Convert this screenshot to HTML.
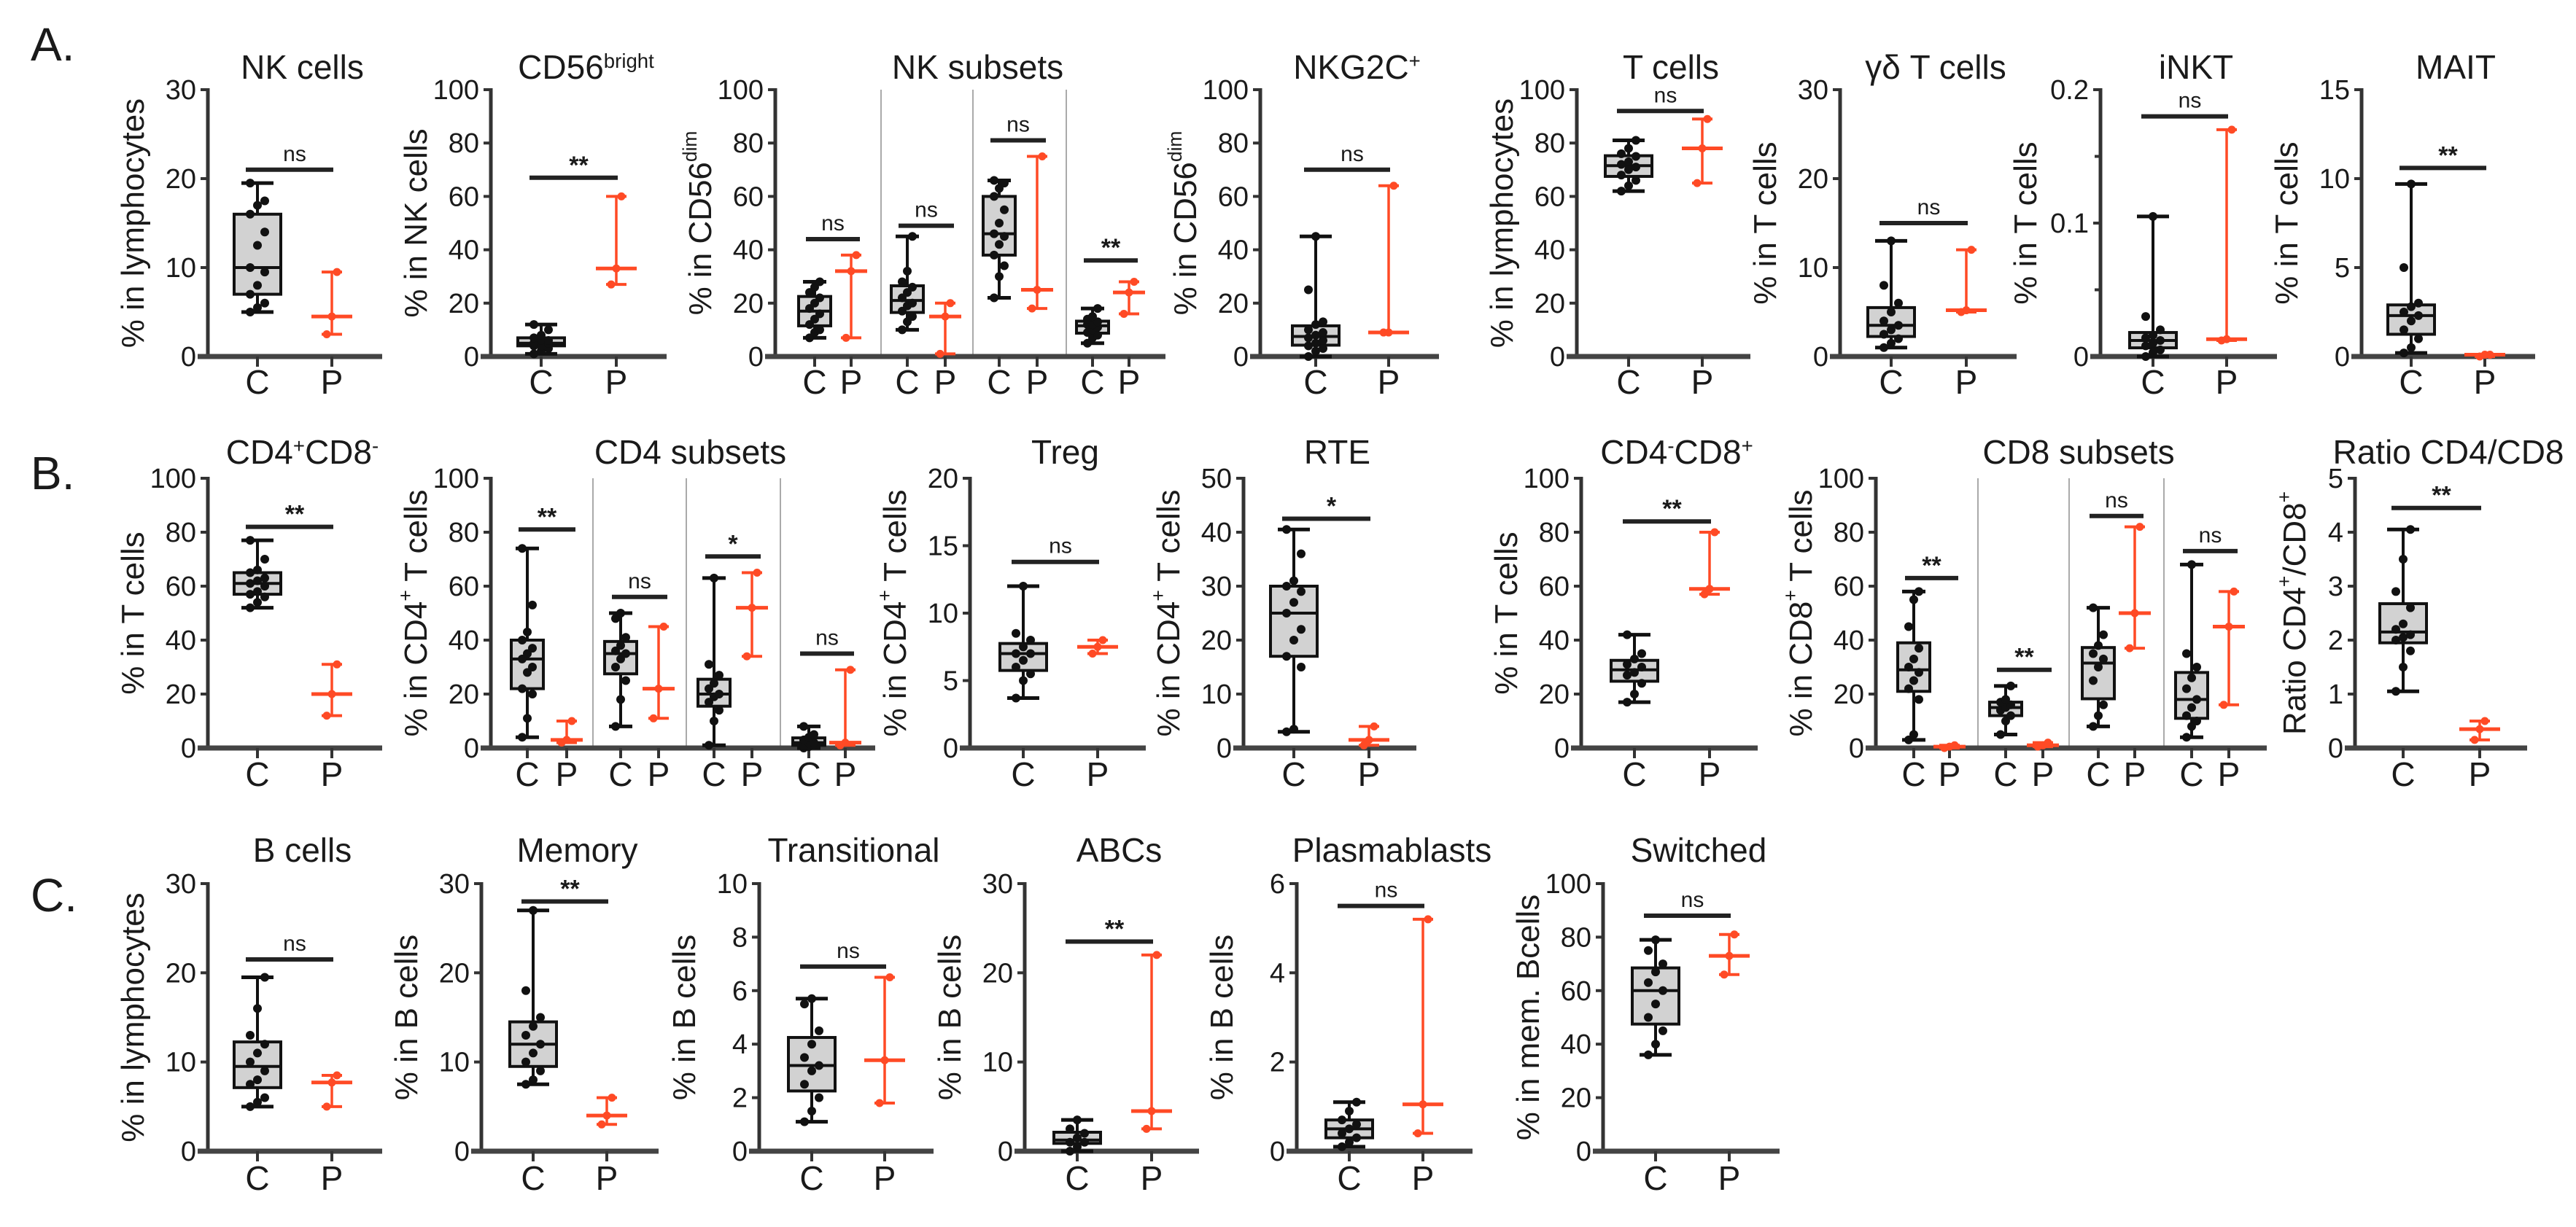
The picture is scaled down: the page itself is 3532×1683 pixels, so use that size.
<!DOCTYPE html>
<html><head><meta charset="utf-8"><style>
html,body{margin:0;padding:0;background:#fff}
svg{display:block}
text{font-family:"Liberation Sans",Arial,sans-serif;fill:#1a1a1a}
</style></head><body>
<svg id="fig" xmlns="http://www.w3.org/2000/svg" width="3532" height="1683" viewBox="0 0 3532 1683"></svg>
<script>
// ---- data arrays (control C points, patient P points, significance labels) ----
const nkC=[5,5.5,6,7,8,9.5,10,12.5,14,16,17,17.5,19.5], nkP=[2.5,4.5,9.5];
const brC=[1,2,3,4,4,5,5,6,6,7,8,10,12], brP=[27,33,60];
const ns0C=[7,9,10,12,14,16,18,20,22,24,26,28], ns0P=[7,32,38];
const ns1C=[10,13,15,17,19,20,22,24,26,28,32,45], ns1P=[1,15,20];
const ns2C=[22,30,34,38,42,45,46,50,55,60,63,65,66], ns2P=[18,25,75];
const ns3C=[5,7,8,9,10,11,12,12,13,14,15,18], ns3P=[16,24,28];
const g2cC=[0,2,3,4,5,6,7,8,9,10,12,13,25,45], g2cP=[9,9,64];
const tC=[62,64,66,68,70,71,72,73,75,76,78,81], tP=[65,78,89];
const gdC=[1,1.5,2,2.5,3,3.5,4,5,6,8,13], gdP=[5,5.2,12];
const inktC=[0,0.003,0.005,0.008,0.01,0.012,0.014,0.016,0.02,0.03,0.105], inktP=[0.012,0.013,0.17];
const maitC=[0.2,0.5,1,1.5,2,2.3,2.5,2.8,3,5,9.7], maitP=[0,0.1,0.1];
const cd4C=[52,54,56,57,58,60,61,62,63,65,66,70,77], cd4P=[12,20,31];
const c4s1C=[4,11,20,22,28,30,33,35,37,40,43,53,74], c4s1P=[2,3,10];
const c4s2C=[8,18,25,30,33,35,36,38,41,48,50], c4s2P=[11,22,45];
const c4s3C=[1,10,14,17,19,20,22,24,27,31,63], c4s3P=[34,52,65];
const c4s4C=[0,0.5,1,1,2,2,3,4,5,8], c4s4P=[1,2,29];
const tregC=[3.7,5,5.5,6,6.5,7,7,7.5,8,8.5,12], tregP=[7,7.5,8];
const rteC=[3,3.5,15,17,20,22,25,27,29,30,31,36,40.5], rteP=[0.5,1.5,4];
const cd8C=[17,20,24,27,28,30,31,33,35,42], cd8P=[57,59,80];
const c8s1C=[3,5,18,22,25,28,30,33,37,45,55,58], c8s1P=[0,0.5,1];
const c8s2C=[5,10,12,14,15,16,17,18,23], c8s2P=[0.5,1,2];
const c8s3C=[8,12,16,25,30,33,35,38,42,52], c8s3P=[37,50,82];
const c8s4C=[4,8,10,12,15,18,22,26,30,35,68], c8s4P=[16,45,58];
const ratC=[1.05,1.5,1.8,2.0,2.05,2.1,2.2,2.3,2.6,2.9,3.5,4.05], ratP=[0.15,0.35,0.5];
const bC=[5,5.5,6,7.5,8,9,10,11,12,13,16,19.5], bP=[5,7.7,8.5];
const memC=[7.5,8,9,10,11,12,13,14,15,18,27], memP=[3,4,6];
const trC=[1.1,1.5,2,2.5,3,3.2,3.5,4,4.5,5.5,5.7], trP=[1.8,3.4,6.5];
const abcC=[0,0.5,1,1,1.5,2,2.5,3.5], abcP=[2.5,4.5,22];
const plC=[0.1,0.2,0.3,0.4,0.5,0.6,0.7,0.9,1.1], plP=[0.4,1.05,5.2];
const swC=[36,40,45,50,55,60,63,67,70,75,79], swP=[66,73,81];

const SVGNS="http://www.w3.org/2000/svg";
const svg=document.getElementById('fig');
const ROWS={A:[123,489],B:[656,1026],C:[1212,1579]};
const TITLEY={A:108,B:636,C:1182};
const CPY={A:540,B:1078,C:1632};
function el(tag,attrs,parent){const e=document.createElementNS(SVGNS,tag);for(const k in attrs)e.setAttribute(k,attrs[k]);(parent||svg).appendChild(e);return e;}
function pct(a,p){const s=[...a].sort((x,y)=>x-y);const i=(s.length-1)*p;const lo=Math.floor(i),hi=Math.ceil(i);return s[lo]+(s[hi]-s[lo])*(i-lo);}
function richText(parent,parts){for(const p of parts){const t=el('tspan',p[1]?{'baseline-shift':'super','font-size':'0.6em'}:{},parent);t.textContent=p[0];}}

const panels=[
 {row:'A',name:'nk-cells',title:[['NK cells']],ylab:[['% in lymphocytes']],ax:285,end:524,ymax:30,ticks:[0,10,20,30],groups:[{cx:353,px:455,C:nkC,P:nkP,sig:'ns',sy:21}]},
 {row:'A',name:'cd56-bright',title:[['CD56'],['bright',1]],ylab:[['% in NK cells']],ax:673,end:914,ymax:100,ticks:[0,20,40,60,80,100],groups:[{cx:742,px:845,C:brC,P:brP,sig:'**',sy:67}]},
 {row:'A',name:'nk-subsets',title:[['NK subsets']],ylab:[['% in CD56'],['dim',1]],ax:1063,end:1598,ymax:100,ticks:[0,20,40,60,80,100],sub:true,seps:[1208,1334,1462],groups:[{cx:1117,px:1167,C:ns0C,P:ns0P,sig:'ns',sy:44},{cx:1244,px:1296,C:ns1C,P:ns1P,sig:'ns',sy:49},{cx:1370,px:1422,C:ns2C,P:ns2P,sig:'ns',sy:81},{cx:1498,px:1548,C:ns3C,P:ns3P,sig:'**',sy:36}]},
 {row:'A',name:'nkg2c',title:[['NKG2C'],['+',1]],ylab:[['% in CD56'],['dim',1]],ax:1728,end:1973,ymax:100,ticks:[0,20,40,60,80,100],groups:[{cx:1804,px:1904,C:g2cC,P:g2cP,sig:'ns',sy:70}]},
 {row:'A',name:'t-cells',title:[['T cells']],ylab:[['% in lymphocytes']],ax:2162,end:2400,ymax:100,ticks:[0,20,40,60,80,100],groups:[{cx:2233,px:2334,C:tC,P:tP,sig:'ns',sy:92}]},
 {row:'A',name:'gd-t-cells',title:[['γδ T cells']],ylab:[['% in T cells']],ax:2523,end:2765,ymax:30,ticks:[0,10,20,30],groups:[{cx:2593,px:2696,C:gdC,P:gdP,sig:'ns',sy:15}]},
 {row:'A',name:'inkt',title:[['iNKT']],ylab:[['% in T cells']],ax:2880,end:3122,ymax:0.2,ticks:[0,0.1,0.2],minor:[0.05,0.15],groups:[{cx:2952,px:3053,C:inktC,P:inktP,sig:'ns',sy:0.18}]},
 {row:'A',name:'mait',title:[['MAIT']],ylab:[['% in T cells']],ax:3238,end:3476,ymax:15,ticks:[0,5,10,15],groups:[{cx:3306,px:3407,C:maitC,P:maitP,sig:'**',sy:10.6}]},

 {row:'B',name:'cd4-cd8-neg',title:[['CD4'],['+',1],['CD8'],['-',1]],ylab:[['% in T cells']],ax:285,end:524,ymax:100,ticks:[0,20,40,60,80,100],groups:[{cx:353,px:455,C:cd4C,P:cd4P,sig:'**',sy:82}]},
 {row:'B',name:'cd4-subsets',title:[['CD4 subsets']],ylab:[['% in CD4'],['+',1],[' T cells']],ax:673,end:1200,ymax:100,ticks:[0,20,40,60,80,100],sub:true,seps:[813,941,1070],groups:[{cx:723,px:777,C:c4s1C,P:c4s1P,sig:'**',sy:81},{cx:851,px:903,C:c4s2C,P:c4s2P,sig:'ns',sy:56},{cx:979,px:1031,C:c4s3C,P:c4s3P,sig:'*',sy:71},{cx:1109,px:1159,C:c4s4C,P:c4s4P,sig:'ns',sy:35}]},
 {row:'B',name:'treg',title:[['Treg']],ylab:[['% in CD4'],['+',1],[' T cells']],ax:1330,end:1571,ymax:20,ticks:[0,5,10,15,20],groups:[{cx:1403,px:1505,C:tregC,P:tregP,sig:'ns',sy:13.8}]},
 {row:'B',name:'rte',title:[['RTE']],ylab:[['% in CD4'],['+',1],[' T cells']],ax:1705,end:1942,ymax:50,ticks:[0,10,20,30,40,50],groups:[{cx:1774,px:1877,C:rteC,P:rteP,sig:'*',sy:42.5}]},
 {row:'B',name:'cd4-neg-cd8-pos',title:[['CD4'],['-',1],['CD8'],['+',1]],ylab:[['% in T cells']],ax:2168,end:2410,ymax:100,ticks:[0,20,40,60,80,100],groups:[{cx:2241,px:2344,C:cd8C,P:cd8P,sig:'**',sy:84}]},
 {row:'B',name:'cd8-subsets',title:[['CD8 subsets']],ylab:[['% in CD8'],['+',1],[' T cells']],ax:2572,end:3108,ymax:100,ticks:[0,20,40,60,80,100],sub:true,seps:[2712,2837,2967],groups:[{cx:2624,px:2673,C:c8s1C,P:c8s1P,sig:'**',sy:63},{cx:2750,px:2801,C:c8s2C,P:c8s2P,sig:'**',sy:29},{cx:2877,px:2927,C:c8s3C,P:c8s3P,sig:'ns',sy:86},{cx:3005,px:3056,C:c8s4C,P:c8s4P,sig:'ns',sy:73}]},
 {row:'B',name:'ratio-cd4-cd8',title:[['Ratio CD4/CD8']],ylab:[['Ratio CD4'],['+',1],['/CD8'],['+',1]],ylo:-80,ax:3229,end:3465,ymax:5,ticks:[0,1,2,3,4,5],groups:[{cx:3295,px:3400,C:ratC,P:ratP,sig:'**',sy:4.45}]},

 {row:'C',name:'b-cells',title:[['B cells']],ylab:[['% in lymphocytes']],ax:285,end:524,ymax:30,ticks:[0,10,20,30],groups:[{cx:353,px:455,C:bC,P:bP,sig:'ns',sy:21.5}]},
 {row:'C',name:'memory',title:[['Memory']],ylab:[['% in B cells']],ax:660,end:903,ymax:30,ticks:[0,10,20,30],groups:[{cx:731,px:832,C:memC,P:memP,sig:'**',sy:28}]},
 {row:'C',name:'transitional',title:[['Transitional']],ylab:[['% in B cells']],ax:1041,end:1280,ymax:10,ticks:[0,2,4,6,8,10],groups:[{cx:1113,px:1213,C:trC,P:trP,sig:'ns',sy:6.9}]},
 {row:'C',name:'abcs',title:[['ABCs']],ylab:[['% in B cells']],ax:1405,end:1644,ymax:30,ticks:[0,10,20,30],groups:[{cx:1477,px:1579,C:abcC,P:abcP,sig:'**',sy:23.5}]},
 {row:'C',name:'plasmablasts',title:[['Plasmablasts']],ylab:[['% in B cells']],ax:1778,end:2019,ymax:6,ticks:[0,2,4,6],groups:[{cx:1850,px:1951,C:plC,P:plP,sig:'ns',sy:5.5}]},
 {row:'C',name:'switched',title:[['Switched']],ylab:[['% in mem. Bcells']],ax:2198,end:2440,ymax:100,ticks:[0,20,40,60,80,100],groups:[{cx:2270,px:2371,C:swC,P:swP,sig:'ns',sy:88}]}
];

// panel letters
[['A.',61],['B.',649],['C.',1228]].forEach(([t,y])=>{
  const e=el('text',{x:42,y:y+22,'font-size':64});
  
  
  e.textContent=t;
});

const RED='#ff4a25';
panels.forEach(p=>{
  const [top,zero]=ROWS[p.row];
  const ys=v=>zero-(v/p.ymax)*(zero-top);
  const g=el('g',{});
  
  
  const tt=el('text',{x:(p.ax+p.end)/2+10,y:TITLEY[p.row],'font-size':46,'text-anchor':'middle'},g);
  
  
  richText(tt,p.title);
  const lx=p.ax+(p.ylo||-100), ly=(top+zero)/2;
  const yl=el('text',{x:lx,y:ly,'font-size':44,'text-anchor':'middle',transform:`rotate(-90 ${lx} ${ly})`,'dominant-baseline':'middle'},g);
  
  
  richText(yl,p.ylab);
  (p.seps||[]).forEach(sx=>{
    const s=el('line',{x1:sx,x2:sx,y1:top,y2:zero,stroke:'#aaa','stroke-width':2},g);
    
    
  });
  const ya=el('line',{x1:p.ax,x2:p.ax,y1:top-2,y2:zero,stroke:'#333','stroke-width':5},g);
  
  
  p.ticks.forEach(t=>{
    const y=ys(t);
    el('line',{x1:p.ax-10,x2:p.ax,y1:y,y2:y,stroke:'#333','stroke-width':4},g);
    const tl=el('text',{x:p.ax-16,y:y+13,'font-size':38,'text-anchor':'end'},g);
    
    
    tl.textContent=String(t);
  });
  (p.minor||[]).forEach(t=>{const y=ys(t);el('line',{x1:p.ax-8,x2:p.ax,y1:y,y2:y,stroke:'#333','stroke-width':4},g);});
  const xa=el('line',{x1:p.ax-14,x2:p.end,y1:zero,y2:zero,stroke:'#444','stroke-width':7},g);
  
  
  const bw=p.sub?22:32, cw=p.sub?16:22;
  p.groups.forEach((gr,i)=>{
    [[gr.cx,'C'],[gr.px,'P']].forEach(([x,l])=>{
      el('line',{x1:x,x2:x,y1:zero,y2:zero+14,stroke:'#333','stroke-width':4},g);
      const lt=el('text',{x:x,y:CPY[p.row],'font-size':46,'text-anchor':'middle'},g);
      
      
      lt.textContent=l;
    });
    const C=gr.C, mn=Math.min(...C), mx=Math.max(...C), q1=pct(C,0.25), q3=pct(C,0.75), md=pct(C,0.5);
    const bg=el('g',{},g);
    
    
    el('line',{x1:gr.cx,x2:gr.cx,y1:ys(mx),y2:ys(mn),stroke:'#111','stroke-width':4},bg);
    el('line',{x1:gr.cx-cw,x2:gr.cx+cw,y1:ys(mx),y2:ys(mx),stroke:'#111','stroke-width':5},bg);
    el('line',{x1:gr.cx-cw,x2:gr.cx+cw,y1:ys(mn),y2:ys(mn),stroke:'#111','stroke-width':5},bg);
    el('rect',{x:gr.cx-bw,y:ys(q3),width:2*bw,height:Math.max(2,ys(q1)-ys(q3)),fill:'#d2d2d2',stroke:'#111','stroke-width':4},bg);
    el('line',{x1:gr.cx-bw,x2:gr.cx+bw,y1:ys(md),y2:ys(md),stroke:'#111','stroke-width':4},bg);
    C.forEach((v,j)=>{
      const d=el('circle',{cx:gr.cx+((j%3)-1)*(p.sub?7:10),cy:ys(v),r:6,fill:'#111'},bg);
      
      
    });
    const P=gr.P, pmn=Math.min(...P), pmx=Math.max(...P), pmd=pct(P,0.5);
    const pg=el('g',{},g);
    
    
    el('line',{x1:gr.px,x2:gr.px,y1:ys(pmx),y2:ys(pmn),stroke:RED,'stroke-width':3.5},pg);
    el('line',{x1:gr.px-14,x2:gr.px+14,y1:ys(pmx),y2:ys(pmx),stroke:RED,'stroke-width':4},pg);
    el('line',{x1:gr.px-14,x2:gr.px+14,y1:ys(pmn),y2:ys(pmn),stroke:RED,'stroke-width':4},pg);
    el('line',{x1:gr.px-(p.sub?22:28),x2:gr.px+(p.sub?22:28),y1:ys(pmd),y2:ys(pmd),stroke:RED,'stroke-width':5},pg);
    P.forEach((v,j)=>{
      const d=el('circle',{cx:gr.px+(j-1)*7,cy:ys(v),r:5.5,fill:RED},pg);
      
      
    });
    const sy=ys(gr.sy);
    const sb=el('line',{x1:gr.cx-(p.sub?12:16),x2:gr.px+(p.sub?12:2),y1:sy,y2:sy,stroke:'#222','stroke-width':6},g);
    
    
    const st=el('text',{x:(gr.cx+gr.px)/2,y:gr.sig==='ns'?sy-12:sy-6,'font-size':gr.sig==='ns'?30:34,'text-anchor':'middle','font-weight':gr.sig==='ns'?'normal':'bold'},g);
    
    
    st.textContent=gr.sig;
  });
});
</script>
</body></html>
